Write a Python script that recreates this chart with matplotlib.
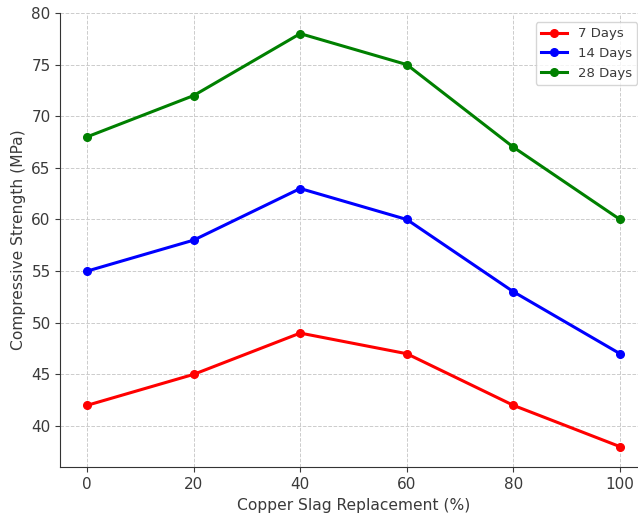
import numpy as np
import matplotlib
matplotlib.use("Agg")
from matplotlib import pyplot as plt

# replacement levels and strength at each curing age
replacement = [0, 20, 40, 60, 80, 100]
days7 = [42, 45, 49, 47, 42, 38]
days14 = [55, 58, 63, 60, 53, 47]
days28 = [68, 72, 78, 75, 67, 60]

txt = '#3a3a3a'
plt.rcParams['text.color'] = txt
plt.rcParams['axes.labelcolor'] = txt
plt.rcParams['xtick.color'] = txt
plt.rcParams['ytick.color'] = txt

fig = plt.figure(figsize=(6.38, 5.15), dpi=100)
# the original is clipped on the right, so the axes run past the figure edge
ax = fig.add_axes([0.0946, 0.0926, 0.919, 0.8822])
ax.plot(replacement, days7, marker='o', color='red', linewidth=2.2, markersize=5.5, label='7 Days')
ax.plot(replacement, days14, marker='o', color='blue', linewidth=2.2, markersize=5.5, label='14 Days')
ax.plot(replacement, days28, marker='o', color='green', linewidth=2.2, markersize=5.5, label='28 Days')

ax.set_xlabel('Copper Slag Replacement (%)', fontsize=11.2)
ax.set_ylabel('Compressive Strength (MPa)', fontsize=11.2)
ax.set_xticks(replacement)
ax.tick_params(labelsize=11)
ax.grid(True, linestyle='--', color='#cccccc', linewidth=0.7)
ax.spines['top'].set_visible(False)
ax.spines['right'].set_visible(False)
for s in ['left', 'bottom']:
    ax.spines[s].set_color('#333333')
ax.legend(loc='upper right', fontsize=9.5, borderaxespad=0.7)

plt.savefig("out.png")
